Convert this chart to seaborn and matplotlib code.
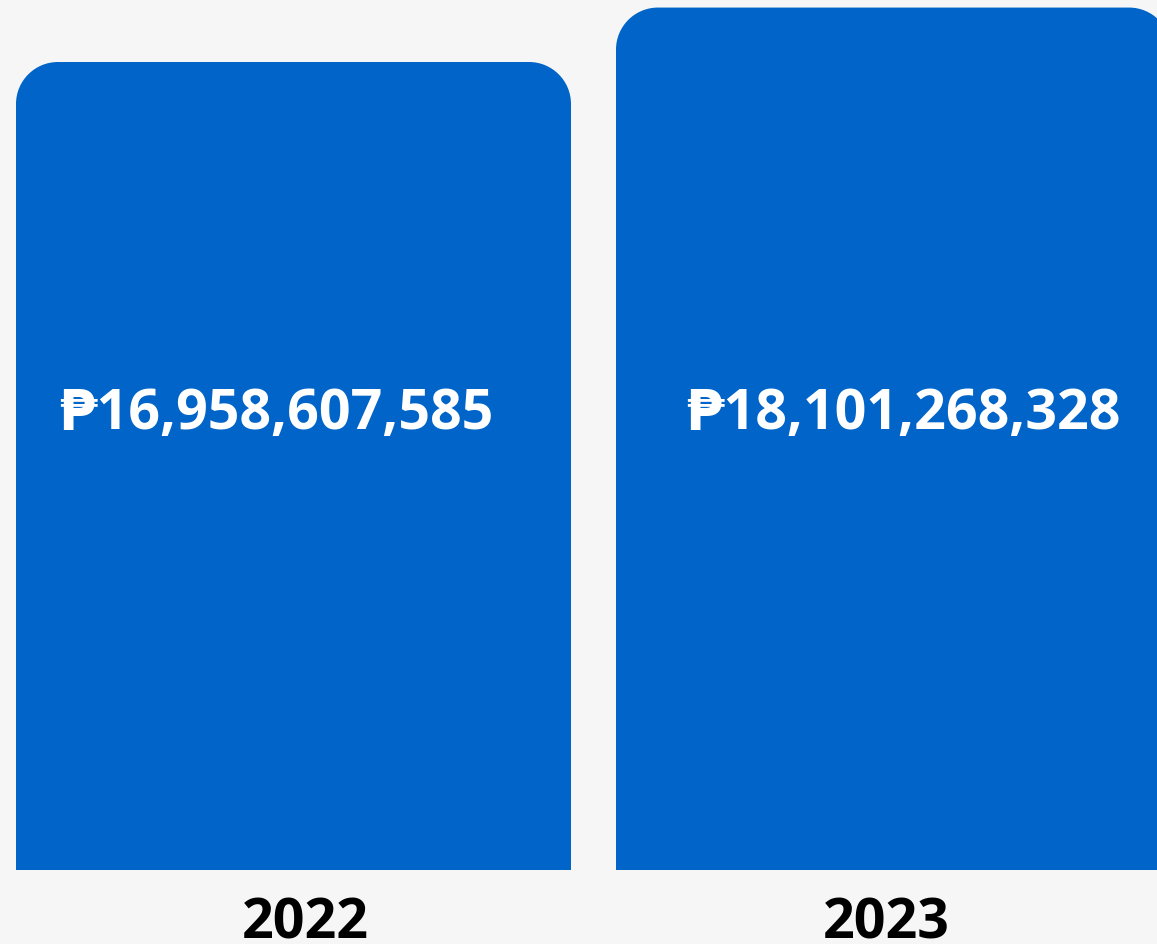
import numpy as np
import pandas as pd
import seaborn as sns
import matplotlib.pyplot as plt
from matplotlib.path import Path
from matplotlib.patches import PathPatch

# data
years = ["2022", "2023"]
totals = [16958607585, 18101268328]
value_labels = ["₱16,958,607,585", "₱18,101,268,328"]

BLUE = "#0064C8"
BG = "#f6f6f6"

sns.set_theme(style="white")
plt.rcParams["font.family"] = ["Open Sans", "DejaVu Sans"]

W, H, DPI = 1157, 945, 100
fig = plt.figure(figsize=(W / DPI, H / DPI), dpi=DPI, facecolor=BG)
base_px = 74
ax = fig.add_axes([0, base_px / H, 1, (H - base_px) / H])
ax.set_facecolor(BG)

df = pd.DataFrame({"year": years, "total": totals})
sns.barplot(data=df, x="year", y="total", color=BLUE, saturation=1, width=0.925, ax=ax)

ax.set_xlim(-293.5 / 600, (W - 293.5) / 600)
ax.set_ylim(0, totals[0] * 871 / 808)
for s in ax.spines.values():
    s.set_visible(False)
ax.set_yticks([])
ax.set_xticklabels([])
ax.set_xlabel("")
ax.set_ylabel("")
ax.tick_params(axis="x", length=0)

# swap plain bars for bars with rounded top corners (radius in pixels)
fig.canvas.draw()
radius_px = 42
inv = ax.transData.inverted()
x0d, y0d = inv.transform((0, 0))
x1d, y1d = inv.transform((radius_px, radius_px))
rx, ry = x1d - x0d, y1d - y0d
k = 0.5523
for bar in list(ax.patches):
    x, y = bar.get_x(), bar.get_y()
    w, h = bar.get_width(), bar.get_height()
    top = y + h
    verts = [
        (x, y), (x, top - ry),
        (x, top - ry + k * ry), (x + rx - k * rx, top), (x + rx, top),
        (x + w - rx, top),
        (x + w - rx + k * rx, top), (x + w, top - ry + k * ry), (x + w, top - ry),
        (x + w, y), (x, y),
    ]
    codes = [Path.MOVETO, Path.LINETO,
             Path.CURVE4, Path.CURVE4, Path.CURVE4,
             Path.LINETO,
             Path.CURVE4, Path.CURVE4, Path.CURVE4,
             Path.LINETO, Path.CLOSEPOLY]
    ax.add_patch(PathPatch(Path(verts, codes), facecolor=BLUE, edgecolor="none"))
    bar.set_visible(False)

px = 72 / DPI  # points per pixel
value_dx = [-18, 9]
year_dx = [12, -7]

# value labels, all on the same baseline inside the bars
label_y = totals[0] * 442 / 808
for i, txt in enumerate(value_labels):
    ax.annotate(txt, (i, label_y), xytext=(value_dx[i] * px, 0), textcoords="offset points",
                ha="center", va="baseline", color="white", fontsize=40, fontweight="bold")

# year labels under the bars
for i, yr in enumerate(years):
    ax.annotate(yr, (i, 0), xytext=(year_dx[i] * px, -68 * px), textcoords="offset points",
                ha="center", va="baseline", color="black", fontsize=40, fontweight="bold",
                annotation_clip=False)

fig.savefig("out.png", dpi=DPI, facecolor=BG)
